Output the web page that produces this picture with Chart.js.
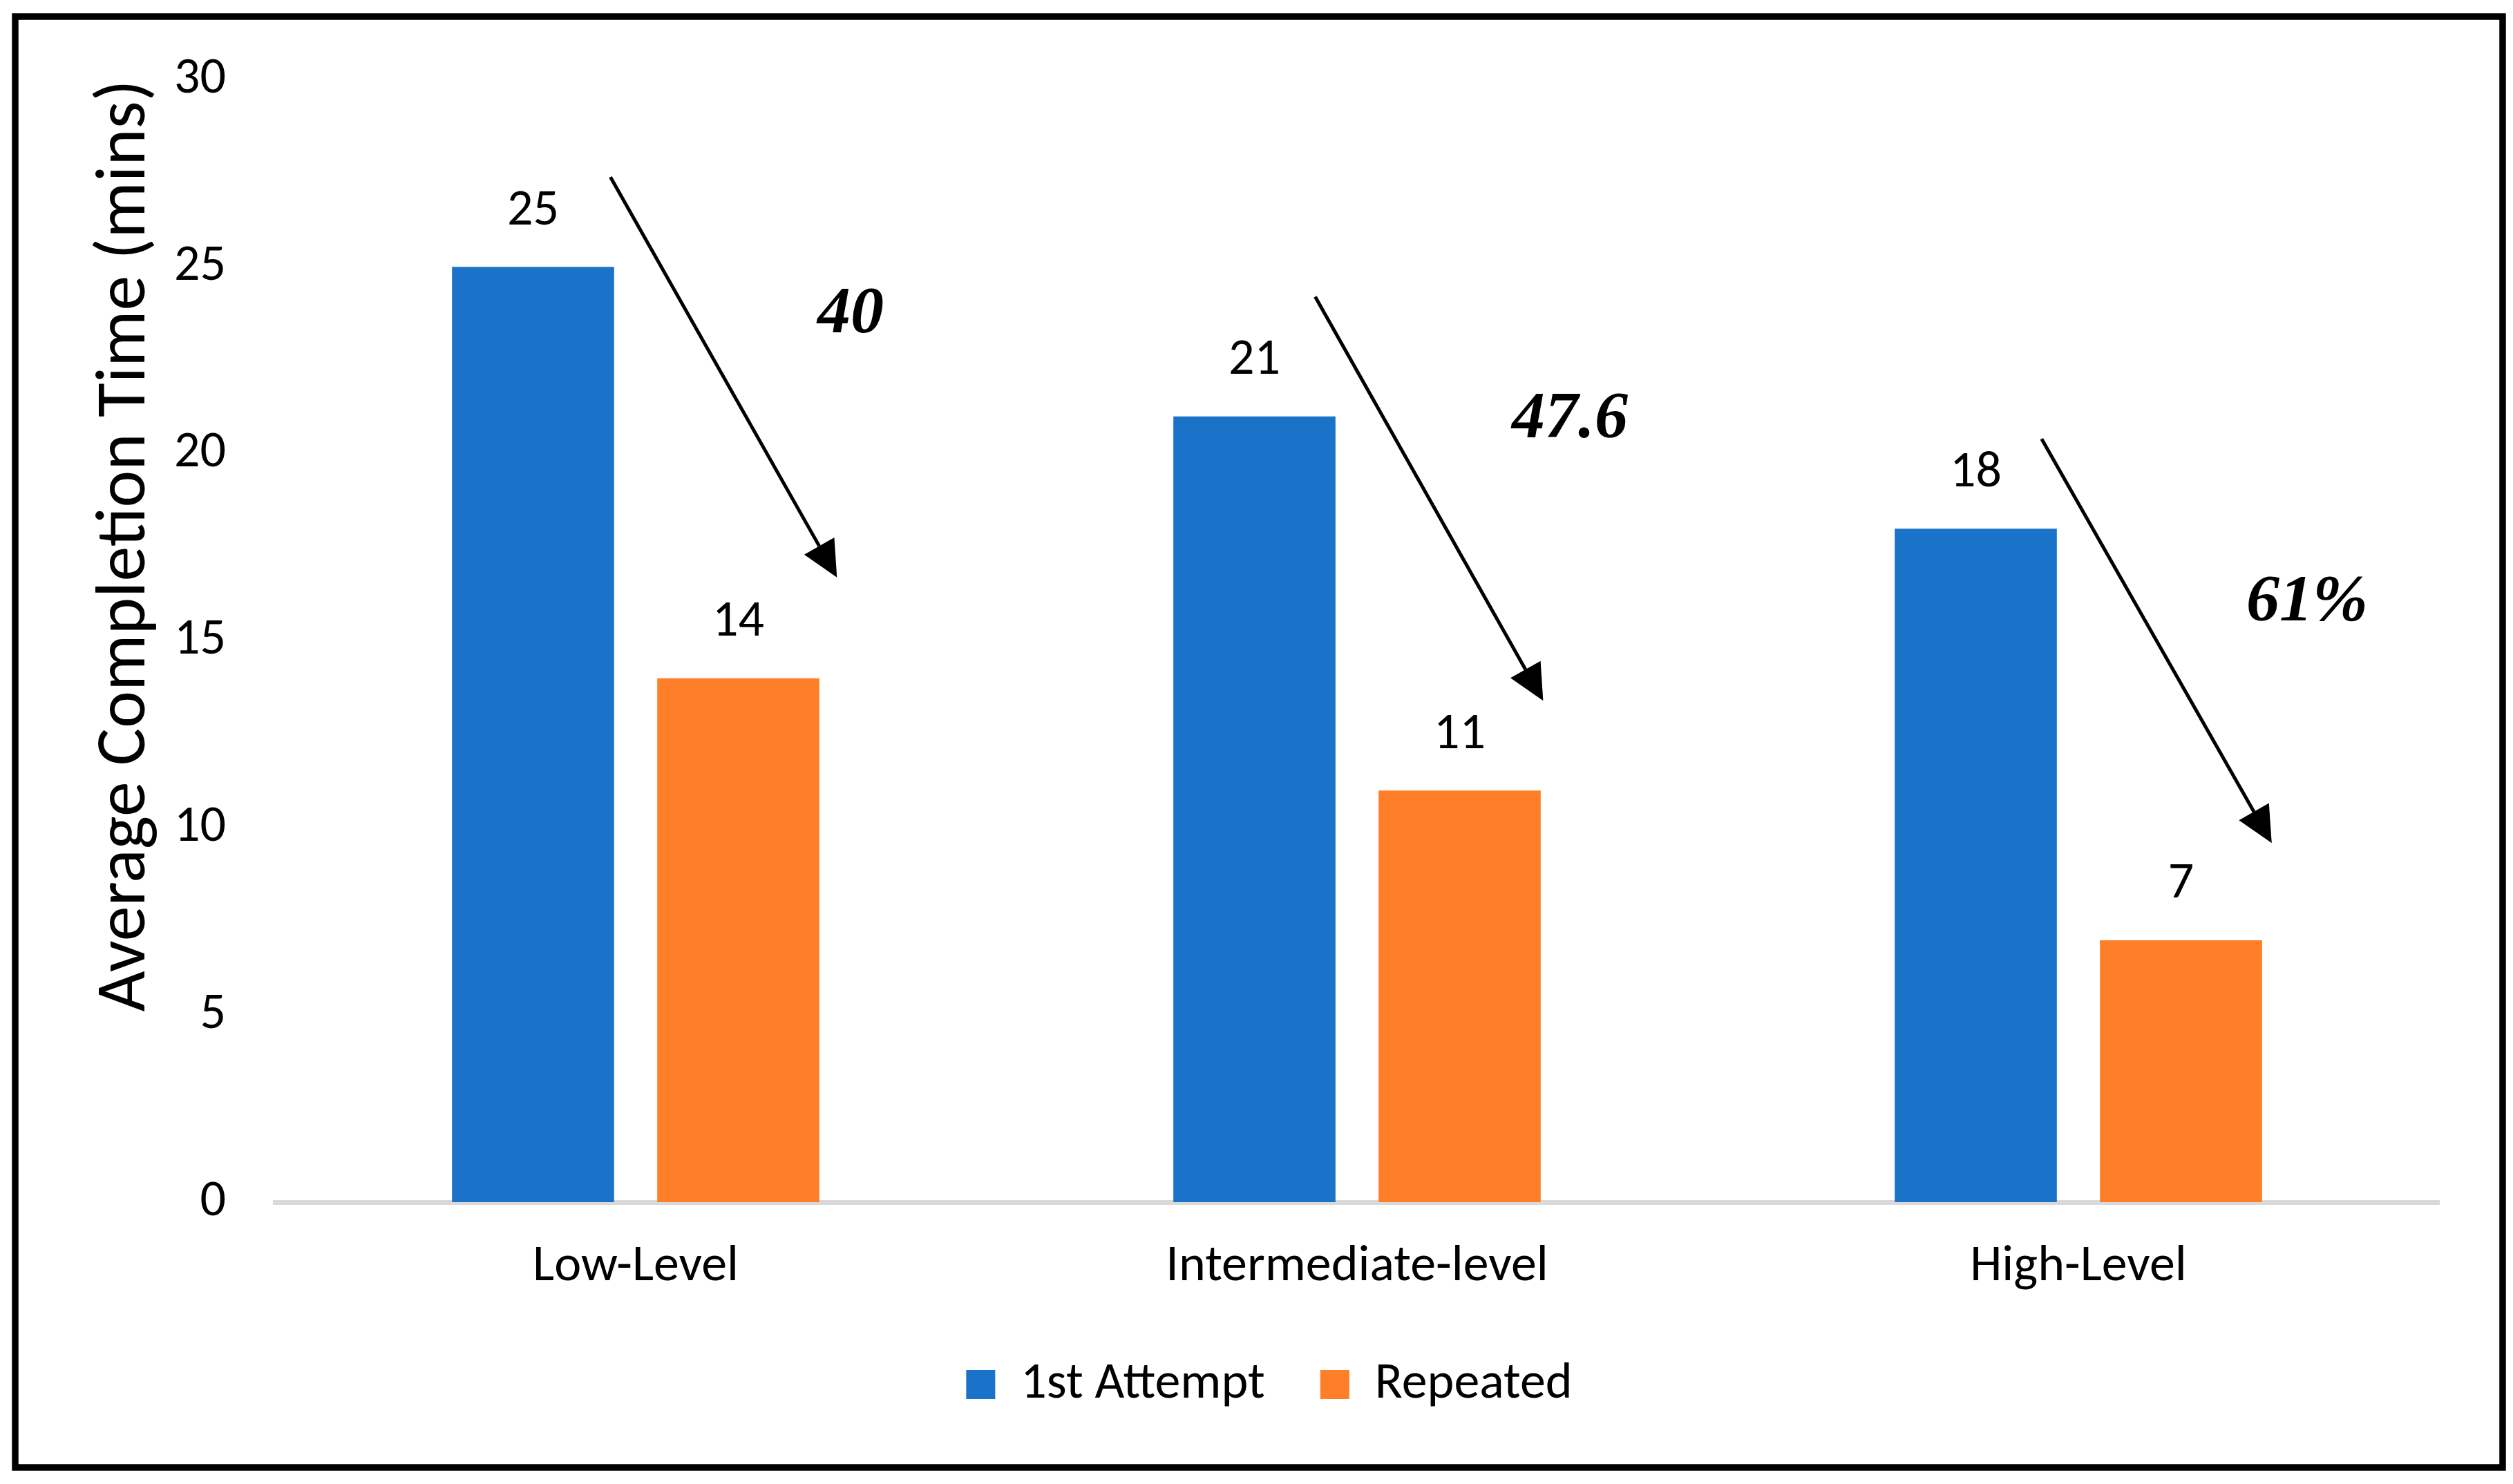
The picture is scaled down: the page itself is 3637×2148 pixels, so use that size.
<!DOCTYPE html>
<html lang="en">
<head>
    <meta charset="UTF-8">
    <title>Average Completion Time</title>
    <script src="https://cdn.jsdelivr.net/npm/chart.js"></script>
    <style>
        html, body { margin: 0; padding: 0; background: #fff; }
        #chart { display: block; }
    </style>
</head>
<body>
    <canvas id="chart" width="3637" height="2148"></canvas>
    <script>
        const categories = ['Low-Level', 'Intermediate-level', 'High-Level'];
        const firstAttempt = [25, 21, 18];
        const repeated = [14, 11, 7];
        const yTicks = [0, 5, 10, 15, 20, 25, 30];

        // reduction notes: arrow ends and label spot, x as offset from the category centre
        // (in category widths), y in minutes
        const reductionLabels = ['40', '47.6', '61%'];
        const arrowFromX = [-0.035, -0.058, -0.051];
        const arrowFromY = [27.4, 24.2, 20.4];
        const arrowToX = [0.279, 0.258, 0.268];
        const arrowToY = [16.7, 13.4, 9.6];
        const noteX = [0.298, 0.295, 0.317];
        const noteY = [23.7, 20.9, 16.0];

        const sans = "Carlito, Lato, sans-serif";
        Chart.defaults.font.family = sans;
        Chart.defaults.color = '#000';

        const extras = {
            id: 'extras',
            beforeDraw(chart) {
                const ctx = chart.ctx;
                ctx.save();
                ctx.fillStyle = '#fff';
                ctx.fillRect(0, 0, chart.width, chart.height);
                ctx.restore();
            },
            afterDatasetsDraw(chart) {
                const ctx = chart.ctx;
                const xs = chart.scales.x, ys = chart.scales.y;
                ctx.save();

                // value labels above the bars
                ctx.font = '74px ' + sans;
                ctx.fillStyle = '#000';
                ctx.textAlign = 'center';
                ctx.textBaseline = 'middle';
                chart.data.datasets.forEach((ds, di) => {
                    chart.getDatasetMeta(di).data.forEach((bar, i) => {
                        ctx.fillText(ds.data[i], bar.x, bar.y - 80);
                    });
                });

                // arrows + percentages
                const step = xs.getPixelForValue(1) - xs.getPixelForValue(0);
                ctx.strokeStyle = '#000';
                ctx.lineWidth = 5;
                categories.forEach((c, i) => {
                    const cx = xs.getPixelForValue(i);
                    const x1 = cx + arrowFromX[i] * step, y1 = ys.getPixelForValue(arrowFromY[i]);
                    const x2 = cx + arrowToX[i] * step, y2 = ys.getPixelForValue(arrowToY[i]);
                    const ang = Math.atan2(y2 - y1, x2 - x1);
                    const headLen = 52, headHalf = 25;
                    const bx = x2 - headLen * Math.cos(ang), by = y2 - headLen * Math.sin(ang);
                    ctx.beginPath();
                    ctx.moveTo(x1, y1);
                    ctx.lineTo(bx, by);
                    ctx.stroke();
                    ctx.beginPath();
                    ctx.moveTo(x2, y2);
                    ctx.lineTo(bx + headHalf * Math.sin(ang), by - headHalf * Math.cos(ang));
                    ctx.lineTo(bx - headHalf * Math.sin(ang), by + headHalf * Math.cos(ang));
                    ctx.closePath();
                    ctx.fill();

                    ctx.font = "italic bold 96px 'Liberation Serif', 'Times New Roman', serif";
                    ctx.fillText(reductionLabels[i], cx + noteX[i] * step, ys.getPixelForValue(noteY[i]));
                });
                ctx.restore();
            },
            afterDraw(chart) {
                // black frame round the whole figure
                const ctx = chart.ctx;
                ctx.save();
                ctx.strokeStyle = '#000';
                ctx.lineWidth = 9.5;
                ctx.strokeRect(22, 24, 3600, 2100);
                ctx.restore();
            }
        };

        new Chart(document.getElementById('chart'), {
            type: 'bar',
            data: {
                labels: categories,
                datasets: [{
                    label: '1st Attempt',
                    data: firstAttempt,
                    backgroundColor: '#1a73c8',
                    categoryPercentage: 0.569,
                    barPercentage: 0.79
                }, {
                    label: 'Repeated',
                    data: repeated,
                    backgroundColor: '#fe7f27',
                    categoryPercentage: 0.569,
                    barPercentage: 0.79
                }]
            },
            options: {
                responsive: false,
                animation: false,
                devicePixelRatio: 1,
                layout: {
                    padding: { top: 115, right: 107, bottom: 97, left: 144 }
                },
                plugins: {
                    legend: {
                        position: 'bottom',
                        labels: {
                            boxWidth: 42,
                            boxHeight: 42,
                            padding: 80,
                            font: { size: 74 }
                        }
                    },
                    tooltip: { enabled: false }
                },
                scales: {
                    x: {
                        grid: { display: false, drawTicks: false },
                        border: { color: '#d9d9d9', width: 7 },
                        ticks: { font: { size: 74 }, padding: 50 },
                        afterFit: s => { s.height = 147; }
                    },
                    y: {
                        min: 0,
                        max: 30,
                        grid: { display: false, drawTicks: false },
                        border: { display: false },
                        afterBuildTicks: s => { s.ticks = yTicks.map(v => ({ value: v })); },
                        ticks: { font: { size: 74 }, padding: 71 },
                        title: {
                            display: true,
                            text: 'Average Completion Time (mins)',
                            align: 'end',
                            font: { size: 102 },
                            padding: { top: -22, bottom: 0 }
                        },
                        afterFit: s => { s.width = 254; }
                    }
                }
            },
            plugins: [extras]
        });
    </script>
</body>
</html>
